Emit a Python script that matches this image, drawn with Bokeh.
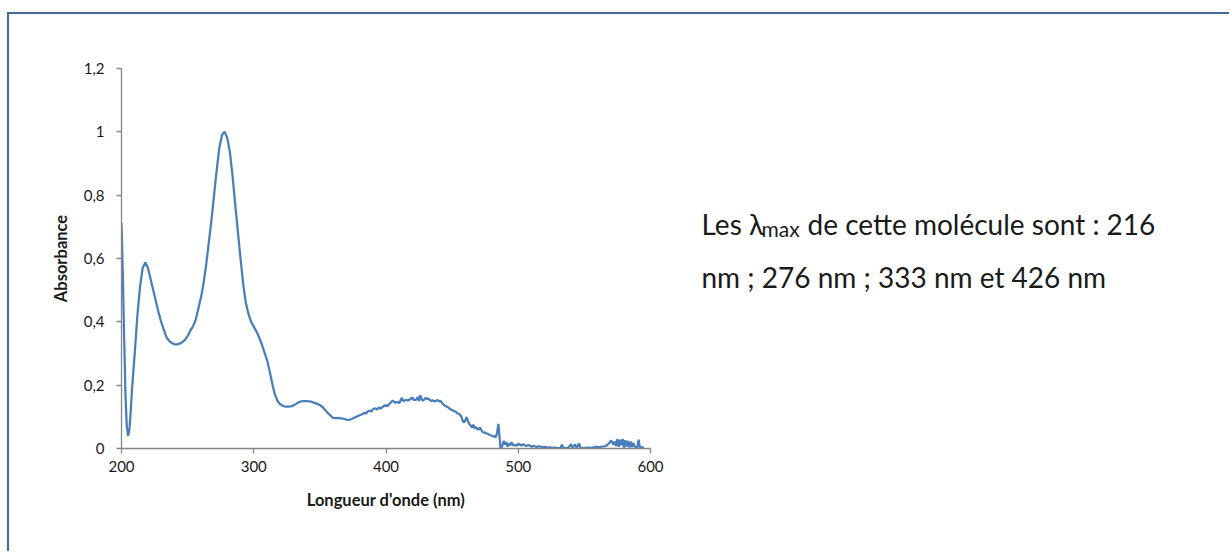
from bokeh.plotting import figure
from bokeh.layouts import row
from bokeh.models import FixedTicker, Label, ColumnDataSource
from bokeh.embed import file_html
from bokeh.resources import INLINE

wavelength = [200, 201, 202, 203, 204, 205, 206, 207, 208, 210, 212, 214, 216, 218, 220, 222, 224, 226, 228, 230,
              232, 234, 236, 238, 240, 242, 244, 246, 248, 250, 252, 254, 256, 258, 260, 262, 264, 266, 268, 270,
              272, 274, 276, 278, 280, 282, 284, 286, 288, 290, 292, 294, 296, 298, 300, 302, 304, 306, 308, 310,
              312, 314, 316, 318, 320, 322, 324, 326, 328, 330, 332, 334, 336, 338, 340, 342, 344, 346, 348, 350,
              352, 354, 356, 358, 360, 362, 364, 366, 368, 370, 372, 374, 376, 378, 380, 382, 384, 385, 386, 388,
              389, 390, 392, 393, 395, 396, 398, 400, 401, 403, 405, 407, 409, 410, 412, 413, 415, 417, 419, 420,
              421, 423, 424, 425, 426, 427, 428, 430, 431, 432, 434, 435, 437, 439, 440, 441, 443, 445, 447, 449,
              451, 453, 454, 456, 457, 458, 459, 460, 461, 462, 463, 464, 465, 466, 467, 468, 469, 470, 471, 473,
              475, 477, 479, 481, 483, 484, 485, 486, 486.5, 487.5, 489, 490, 491, 492, 493, 494, 495, 496, 497, 499,
              500, 502, 504, 506, 508, 510, 512, 514, 516, 518, 520, 522, 524, 526, 528, 530, 532, 533, 534, 536,
              538, 540, 541, 543, 544, 546, 547, 549, 551, 553, 555, 557, 559, 561, 563, 565, 567, 569, 570, 571,
              572, 573, 574, 575, 576, 577, 578, 579, 580, 581, 582, 583, 584, 585, 586, 587, 588, 590, 591, 592,
              593, 594, 595]
absorbance = [0.712, 0.55, 0.35, 0.17, 0.07, 0.04, 0.06, 0.12, 0.19, 0.30, 0.42, 0.51, 0.57, 0.587, 0.57, 0.535, 0.50, 0.465, 0.43, 0.40,
              0.375, 0.352, 0.34, 0.333, 0.329, 0.329, 0.331, 0.336, 0.343, 0.355, 0.372, 0.385, 0.405, 0.44, 0.475, 0.52, 0.58, 0.65, 0.72, 0.80,
              0.88, 0.95, 0.99, 1.0, 0.98, 0.935, 0.86, 0.77, 0.685, 0.60, 0.52, 0.46, 0.425, 0.40, 0.385, 0.37, 0.352, 0.33, 0.305, 0.28,
              0.245, 0.205, 0.17, 0.15, 0.14, 0.135, 0.132, 0.132, 0.133, 0.136, 0.141, 0.146, 0.149, 0.15, 0.15, 0.149, 0.147, 0.144, 0.141, 0.137,
              0.131, 0.122, 0.112, 0.104, 0.097, 0.096, 0.097, 0.095, 0.094, 0.091, 0.09, 0.093, 0.097, 0.101, 0.105, 0.108, 0.113, 0.11, 0.117, 0.12,
              0.116, 0.124, 0.127, 0.123, 0.13, 0.126, 0.133, 0.137, 0.133, 0.143, 0.151, 0.145, 0.147, 0.143, 0.16, 0.15, 0.153, 0.152, 0.158, 0.161,
              0.153, 0.154, 0.163, 0.15, 0.169, 0.155, 0.151, 0.16, 0.156, 0.158, 0.15, 0.152, 0.149, 0.153, 0.148, 0.151, 0.14, 0.134, 0.13, 0.123,
              0.119, 0.115, 0.111, 0.107, 0.1, 0.088, 0.082, 0.09, 0.099, 0.085, 0.078, 0.072, 0.066, 0.075, 0.064, 0.068, 0.061, 0.06, 0.066, 0.052,
              0.05, 0.046, 0.042, 0.039, 0.036, 0.05, 0.078, 0.03, 0.0, 0.002, 0.024, 0.012, 0.02, 0.006, 0.015, 0.01, 0.02, 0.009, 0.012, 0.009,
              0.015, 0.01, 0.013, 0.008, 0.011, 0.006, 0.008, 0.005, 0.007, 0.004, 0.005, 0.003, 0.004, 0.002, 0.003, 0.001, 0.002, 0.012, 0.002, 0.001,
              0.003, 0.014, 0.002, 0.013, 0.001, 0.016, 0.002, 0.001, 0.002, 0.003, 0.002, 0.004, 0.005, 0.004, 0.006, 0.007, 0.01, 0.018, 0.025, 0.02,
              0.012, 0.022, 0.008, 0.03, 0.005, 0.028, 0.01, 0.03, 0.002, 0.026, 0.006, 0.024, 0.003, 0.022, 0.004, 0.018, 0.006, 0.004, 0.028, 0.002,
              0.005, 0.003, 0.004]

x_ticks = [200, 300, 400, 500, 600]
y_ticks = [0, 0.2, 0.4, 0.6, 0.8, 1.0, 1.2]
y_tick_labels = ["0", "0,2", "0,4", "0,6", "0,8", "1", "1,2"]
x_title = "Longueur d'onde (nm)"
y_title = "Absorbance"
note_line1 = ["Les \u03bb", "max", "de cette molécule sont : 216"]
note_line2 = "nm ; 276 nm ; 333 nm et 426 nm"

FONT = "Lato"
AXIS_GRAY = "#868686"
TEXT = "#1a1a1a"

H = 537
LEFT, TOP, PLOT_W, PLOT_H = 112, 54, 529, 380
W1 = LEFT + PLOT_W + 20
W2 = 1220 - W1
ORIGIN_X, ORIGIN_Y = 9, 14   # page position of the canvas (margin + border)

# ---- chart ----
p = figure(width=W1, height=H, output_backend="svg", toolbar_location=None,
           x_range=(200, 600), y_range=(0, 1.2),
           min_border_left=LEFT, min_border_right=W1 - LEFT - PLOT_W, min_border_top=TOP,
           min_border_bottom=H - TOP - PLOT_H)
p.grid.visible = False
p.outline_line_color = None
p.background_fill_color = "white"
p.border_fill_color = "white"

src = ColumnDataSource(dict(x=wavelength, y=absorbance))
p.line("x", "y", source=src, line_color="#4a7ebb", line_width=2.25)

for ax in (p.xaxis[0], p.yaxis[0]):
    ax.axis_line_color = AXIS_GRAY
    ax.axis_line_width = 1.3
    ax.major_tick_line_color = AXIS_GRAY
    ax.major_tick_line_width = 1.3
    ax.major_tick_out = 5
    ax.major_tick_in = 0
    ax.minor_tick_line_color = None
    ax.major_label_text_font = FONT
    ax.major_label_text_font_size = "15px"
    ax.major_label_text_color = TEXT
    ax.axis_label_text_font = FONT
    ax.axis_label_text_font_size = "16.5px"
    ax.axis_label_text_font_style = "bold"
    ax.axis_label_text_color = TEXT

p.xaxis.ticker = FixedTicker(ticks=x_ticks)
p.yaxis.ticker = FixedTicker(ticks=y_ticks)
p.yaxis.major_label_overrides = {t: l for t, l in zip(y_ticks, y_tick_labels)}
p.xaxis.axis_label = x_title
p.yaxis.axis_label = y_title
p.xaxis.major_label_standoff = 7
p.xaxis.axis_label_standoff = 15
p.yaxis.major_label_standoff = 12
p.yaxis.axis_label_standoff = 10

# ---- text panel on the right (frame aligned with the chart's frame) ----
p2 = figure(width=W2, height=H, output_backend="svg", toolbar_location=None,
            x_range=(0, W2), y_range=(0, PLOT_H), x_axis_location=None, y_axis_location=None,
            min_border_left=0, min_border_right=0, min_border_top=TOP,
            min_border_bottom=H - TOP - PLOT_H)
p2.grid.visible = False
p2.outline_line_color = None
p2.border_fill_color = "white"

FRAME_TOP_PAGE = ORIGIN_Y + TOP

def lab(txt, page_x, page_y, size):
    p2.add_layout(Label(x=page_x - ORIGIN_X - W1, y=PLOT_H - (page_y - FRAME_TOP_PAGE), text=txt,
                        text_font=FONT, text_font_size=size, text_color=TEXT,
                        text_baseline="alphabetic", text_align="left"))

lab(note_line1[0], 701, 223, "28px")
lab(note_line1[1], 761, 228, "21px")
lab(note_line1[2], 807, 223, "28px")
lab(note_line2, 701, 276, "28px")

layout = row(p, p2)
layout.styles = {"margin-left": "7px", "margin-top": "12px",
                 "border-left": "2px solid #46699b", "border-top": "2px solid #46699b"}

open("out.html", "w").write(file_html(layout, INLINE))
